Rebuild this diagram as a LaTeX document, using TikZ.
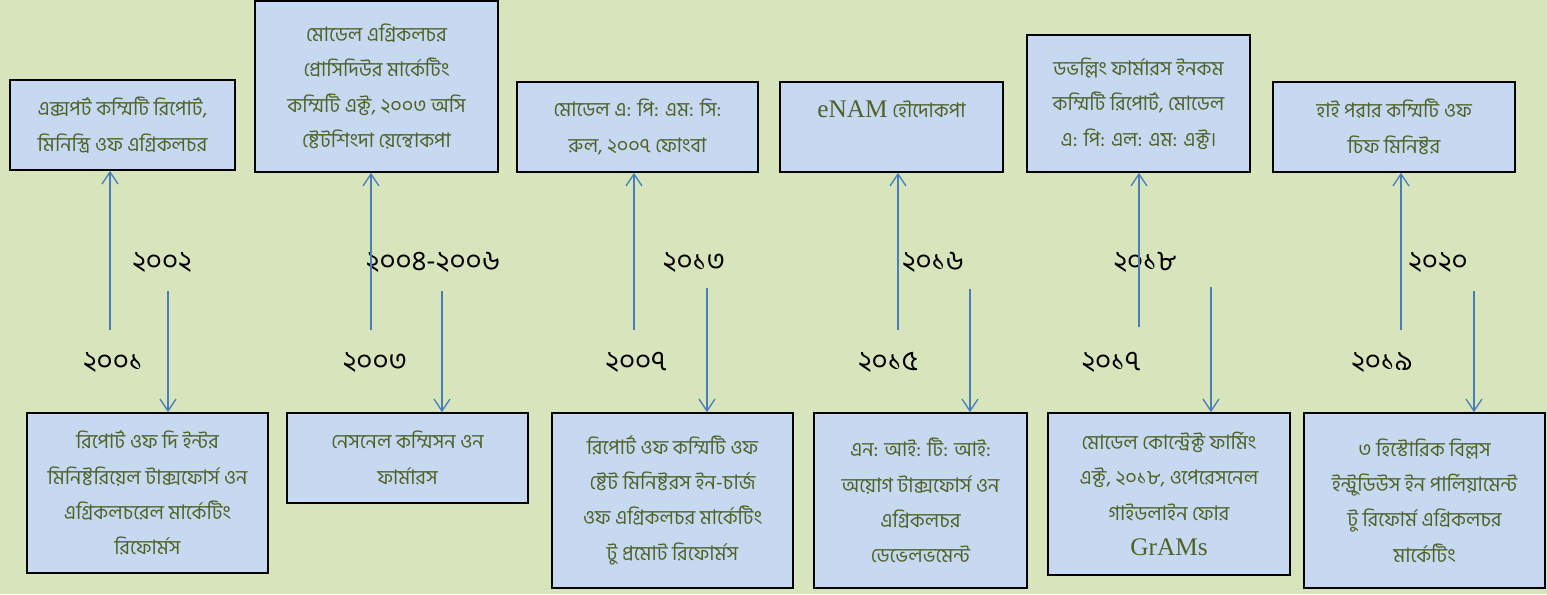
\documentclass[tikz,border=0pt]{standalone}
\usepackage{fontspec}
\usepackage{tikz}
\usetikzlibrary{arrows.meta}
\newfontfamily\bnfont[Script=Bengali]{Hind Siliguri}
\newfontfamily\latinfont{Liberation Serif}
\newcommand\latword[1]{{\latinfont\fontsize{19}{26}\selectfont #1}}
\definecolor{bgcol}{HTML}{D8E4BC}
\definecolor{boxcol}{HTML}{C6D9F1}
\definecolor{txtcol}{HTML}{4F6228}
\definecolor{arrcol}{HTML}{4A7EBB}

\begin{document}
\begin{tikzpicture}[x=0.75pt, y=-0.75pt,
    event/.style={draw=black, line width=1.2pt, fill=boxcol, text=txtcol, align=center,
        inner sep=0pt, font=\bnfont\fontsize{15}{26.5}\selectfont},
    year/.style={font=\bnfont\fontsize{21}{24}\selectfont, text=black},
    link/.style={draw=arrcol, line width=1pt, -{Straight Barb[length=9pt,width=12pt]}}]
    % background
    \fill[bgcol] (0,0) rectangle (1547,594);
    \useasboundingbox (0,0) rectangle (1547,594);

    % Define nodes (top row)
    \node[event, minimum width=225*0.75pt, minimum height=90*0.75pt] (t1) at (122.5,125)
        {এক্সপর্ট কম্মিটি রিপোর্ট,\\মিনিস্ত্রি ওফ এগ্রিকলচর};
    \node[event, minimum width=243*0.75pt, minimum height=171*0.75pt] (t2) at (376.5,86.5)
        {মোডেল এগ্রিকলচর\\প্রোসিদিউর মার্কেটিং\\কম্মিটি এক্ট, ২০০৩ অসি\\ষ্টেটশিংদা য়েন্থোকপা};
    \node[event, minimum width=241*0.75pt, minimum height=90*0.75pt] (t3) at (637.5,127)
        {মোডেল এ: পি: এম: সি:\\রুল, ২০০৭ ফোংবা};
    \node[event, minimum width=223*0.75pt, minimum height=90*0.75pt] (t4) at (891.5,127)
        {\latword{eNAM} হৌদোকপা\\~};
    \node[event, minimum width=223*0.75pt, minimum height=137*0.75pt] (t5) at (1138.5,103.5)
        {ডভল্লিং ফার্মারস ইনকম\\কম্মিটি রিপোর্ট, মোডেল\\এ: পি: এল: এম: এক্ট।};
    \node[event, minimum width=242*0.75pt, minimum height=90*0.75pt] (t6) at (1394,127)
        {হাই পৱার কম্মিটি ওফ\\চিফ মিনিষ্টর};

    % Define nodes (bottom row)
    \node[event, minimum width=241*0.75pt, minimum height=160*0.75pt] (b1) at (147.5,493)
        {রিপোর্ট ওফ দি ইন্টর\\মিনিষ্টরিয়েল টাক্সফোর্স ওন\\এগ্রিকলচরেল মার্কেটিং\\রিফোর্মস};
    \node[event, minimum width=241*0.75pt, minimum height=90*0.75pt] (b2) at (407.5,458)
        {নেসনেল কম্মিসন ওন\\ফার্মারস};
    \node[event, minimum width=241*0.75pt, minimum height=175*0.75pt] (b3) at (672.5,500.5)
        {রিপোর্ট ওফ কম্মিটি ওফ\\ষ্টেট মিনিষ্টরস ইন-চার্জ\\ওফ এগ্রিকলচর মার্কেটিং\\টু প্রমোট রিফোর্মস};
    \node[event, minimum width=213*0.75pt, minimum height=175*0.75pt] (b4) at (920.5,500.5)
        {এন: আই: টি: আই:\\অয়োগ টাক্সফোর্স ওন\\এগ্রিকলচর\\ডেভেলভমেন্ট};
    \node[event, minimum width=242*0.75pt, minimum height=162*0.75pt] (b5) at (1169,494)
        {মোডেল কোন্ট্রেক্ট ফার্মিং\\এক্ট, ২০১৮, ওপেরেসনেল\\গাইডলাইন ফোর\\\latword{GrAMs}};
    \node[event, minimum width=241*0.75pt, minimum height=175*0.75pt] (b6) at (1424.5,500.5)
        {৩ হিস্টোরিক বিল্লস\\ইন্ট্রুডিউস ইন পার্লিয়ামেন্ট\\টু রিফোর্ম এগ্রিকলচর\\মার্কেটিং};

    % years
    \node[year] (y2002) at (162,262) {২০০২};
    \node[year] (y2004) at (433,262) {২০০৪-২০০৬};
    \node[year] (y2013) at (694,262) {২০১৩};
    \node[year] (y2016) at (933,262) {২০১৬};
    \node[year] (y2018) at (1145,262) {২০১৮};
    \node[year] (y2020) at (1438,262) {২০২০};
    \node[year] (y2001) at (113,362) {২০০১};
    \node[year] (y2003) at (375,362) {২০০৩};
    \node[year] (y2007) at (636,362) {২০০৭};
    \node[year] (y2015) at (888,362) {২০১৫};
    \node[year] (y2017) at (1111,362) {২০১৭};
    \node[year] (y2019) at (1382,362) {২০১৯};

    % arrow ends
    \coordinate (u1) at (110,330);
    \coordinate (u2) at (371,330);
    \coordinate (u3) at (634,330);
    \coordinate (u4) at (898,330);
    \coordinate (u5) at (1139,327);
    \coordinate (u6) at (1401,330);
    \coordinate (d1) at (168,291);
    \coordinate (d2) at (442,291);
    \coordinate (d3) at (707,288);
    \coordinate (d4) at (970,289);
    \coordinate (d5) at (1211,287);
    \coordinate (d6) at (1474,291);

    % Connect nodes
    \draw[link] (u1) -- (u1 |- t1.south);
    \draw[link] (u2) -- (u2 |- t2.south);
    \draw[link] (u3) -- (u3 |- t3.south);
    \draw[link] (u4) -- (u4 |- t4.south);
    \draw[link] (u5) -- (u5 |- t5.south);
    \draw[link] (u6) -- (u6 |- t6.south);
    \draw[link] (d1) -- (d1 |- b1.north);
    \draw[link] (d2) -- (d2 |- b2.north);
    \draw[link] (d3) -- (d3 |- b3.north);
    \draw[link] (d4) -- (d4 |- b4.north);
    \draw[link] (d5) -- (d5 |- b5.north);
    \draw[link] (d6) -- (d6 |- b6.north);
\end{tikzpicture}
\end{document}
